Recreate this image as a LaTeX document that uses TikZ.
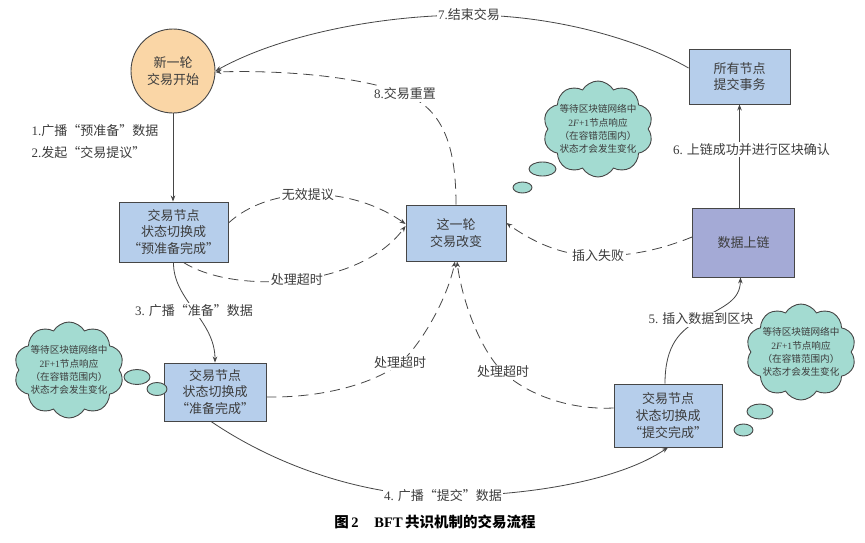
\documentclass[tikz,border=0pt]{standalone}
\usepackage{fontspec}
\setmainfont{Noto Sans CJK SC}
\newfontfamily\lat{Liberation Serif}
\usetikzlibrary{shapes.symbols,shapes.geometric,arrows.meta}
\definecolor{boxblue}{RGB}{182,206,235}
\definecolor{boxpurple}{RGB}{164,170,214}
\definecolor{circorange}{RGB}{250,214,166}
\definecolor{cloudteal}{RGB}{163,219,209}
\definecolor{linegray}{RGB}{70,70,70}
\definecolor{textgray}{RGB}{60,60,60}
\begin{document}
\begin{tikzpicture}[x=1pt,y=-1pt,
  every node/.style={text=textgray},
  box/.style={draw=linegray, line width=0.9pt, fill=boxblue, align=center,
    font=\fontsize{13}{16.7}\selectfont, inner sep=0pt},
  circ/.style={circle, draw=linegray, line width=0.9pt, fill=circorange, align=center,
    minimum size=84pt, inner sep=0pt, font=\fontsize{13}{16.7}\selectfont},
  cloudshape/.style={cloud, cloud puffs=10, cloud puff arc=120, cloud ignores aspect,
    draw=linegray, line width=0.9pt, fill=cloudteal, minimum width=110pt, minimum height=96pt, inner sep=0pt},
  cloudtext/.style={align=center, font=\fontsize{9.6}{13.3}\selectfont, inner sep=0pt},
  bubble/.style={ellipse, draw=linegray, line width=0.9pt, fill=cloudteal, inner sep=0pt},
  lab/.style={fill=white, inner sep=1.5pt, font=\fontsize{13}{16}\selectfont},
  arr/.style={draw=linegray, line width=0.8pt, -{Stealth[length=6pt,width=4.5pt]}},
  darr/.style={arr, dash pattern=on 10pt off 6pt}
]
\fill[white] (0,0) rectangle (865,542);
\useasboundingbox (0,0) rectangle (865,542);

% nodes
\node[circ] (c) at (173,71) {新一轮\\交易开始};
\node[box, minimum width=109pt, minimum height=60pt] (b1) at (173.5,232) {交易节点\\状态切换成\\“预准备完成”};
\node[box, minimum width=100pt, minimum height=56pt] (b2) at (456,233) {这一轮\\交易改变};
\node[box, minimum width=101pt, minimum height=55pt] (b6) at (739.5,76.5) {所有节点\\提交事务};
\node[box, fill=boxpurple, minimum width=102pt, minimum height=69pt] (b5) at (743.5,242.5) {数据上链};
\node[box, minimum width=102pt, minimum height=58pt] (b3) at (215,392) {交易节点\\状态切换成\\“准备完成”};
\node[box, minimum width=108pt, minimum height=63pt] (b4) at (668,415.5) {交易节点\\状态切换成\\“提交完成”};

% clouds
\node[cloudshape] (k1) at (598,129) {};
\node[cloudtext] (k1t) at (k1) {等待区块链网络中\\{\lat 2\textit{F}+1}节点响应\\（在容错范围内）\\状态才会发生变化};
\node[bubble, minimum width=27pt, minimum height=14pt] (k1a) at (542.5,169) {};
\node[bubble, minimum width=19pt, minimum height=11pt] (k1b) at (522.5,187.5) {};

\node[cloudshape] (k2) at (69,370) {};
\node[cloudtext] (k2t) at (k2) {等待区块链网络中\\{\lat 2F+1}节点响应\\（在容错范围内）\\状态才会发生变化};
\node[bubble, minimum width=26pt, minimum height=15pt] (k2a) at (137,377) {};
\node[bubble, minimum width=20pt, minimum height=13pt] (k2b) at (157,389) {};

\node[cloudshape] (k3) at (801,352) {};
\node[cloudtext] (k3t) at (k3) {等待区块链网络中\\{\lat 2\textit{F}+1}节点响应\\（在容错范围内）\\状态才会发生变化};
\node[bubble, minimum width=26pt, minimum height=15pt] (k3a) at (760,411.5) {};
\node[bubble, minimum width=19pt, minimum height=12pt] (k3b) at (743.5,430) {};

% connectors
\draw[arr] (c.south) -- (c.south |- b1.north);
\node[lab, anchor=west, fill=none] (l1) at (30,131) {{\lat 1.}广播“预准备”数据};
\node[lab, anchor=west, fill=none] (l2) at (30,153) {{\lat 2.}发起“交易提议”};

\draw[darr] ([yshift=9pt]b1.east) .. controls (270,185) and (350,185) .. ([yshift=9pt]b2.west)
  node[lab,pos=0.48]{无效提议};
\draw[darr] ([xshift=10pt]b1.south) .. controls (235,295) and (360,288) .. ([yshift=7pt]b2.west)
  node[lab,pos=0.5]{处理超时};

\draw[arr] (b1.south) .. controls (173,300) and (215,320) .. (b3.north)
  node[lab,pos=0.5]{{\lat 3.} 广播“准备”数据};

\draw[darr] ([yshift=-5pt]b3.east) .. controls (330,398) and (380,380) .. (400,363) node[lab]{处理超时}
  .. controls (420,346) and (447,300) .. ([xshift=-1pt]b2.south);
\draw[darr] ([yshift=7.5pt]b4.west) .. controls (570,410) and (528,395) .. (503,372) node[lab]{处理超时}
  .. controls (480,350) and (462,300) .. ([xshift=1pt]b2.south);

\draw[arr] ([xshift=-4pt]b3.south) .. controls (290,475) and (380,496) .. (443,496) node[lab]{{\lat 4.} 广播“提交”数据}
  .. controls (530,496) and (620,480) .. (b4.south);

\draw[arr] ([xshift=-3pt]b4.north) .. controls (665,345) and (680,330) .. (701,319) node[lab]{{\lat 5.} 插入数据到区块}
  .. controls (725,306) and (740,300) .. ([xshift=-3pt]b5.south);

\draw[darr] ([yshift=5.5pt]b5.west) .. controls (660,250) and (630,256) .. (598,256) node[lab]{插入失败}
  .. controls (560,256) and (530,240) .. ([yshift=10pt]b2.east);

\draw[arr] (b6.south |- b5.north) -- (b6.south) node[lab,pos=0.56,xshift=12pt]{{\lat 6.} 上链成功并进行区块确认};

\draw[arr] ([yshift=8.5pt]b6.west) .. controls (640,40) and (555,15) .. (469,15) node[lab]{{\lat 7.}结束交易}
  .. controls (380,15) and (280,35) .. (c.east);

\draw[darr] (b2.north) .. controls (456,150) and (445,110) .. (405,94) node[lab]{{\lat 8.}交易重置}
  .. controls (360,76) and (280,70) .. ([yshift=-1pt]c.east);

% caption
\node[font=\bfseries\fontsize{14.5}{17}\selectfont, text=black] (cap) at (435,522)
  {图\,{\lat\bfseries 2}\hspace{1.1em}{\lat\bfseries BFT}\,共识机制的交易流程};
\end{tikzpicture}
\end{document}
